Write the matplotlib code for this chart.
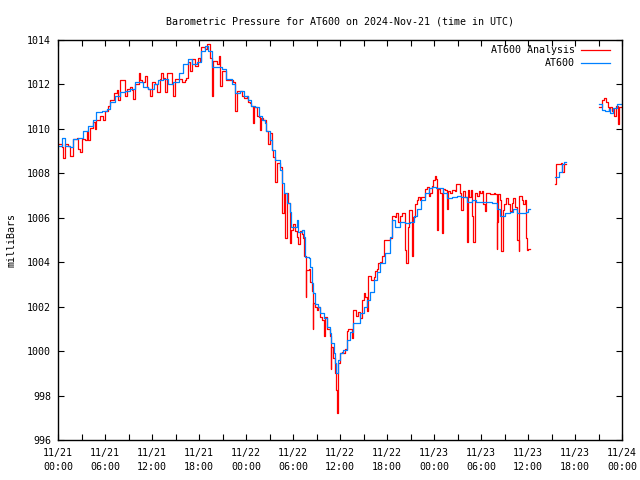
import numpy as np
import matplotlib
matplotlib.use("Agg")
import matplotlib.pyplot as plt

nan = float("nan")

# hours since 2024-11-21 00:00 UTC
at600_hours = [0.04, 0.47, 0.89, 1.53, 1.96, 2.6, 3.2, 3.87, 4.5, 4.9, 5.6, 6.2, 6.6, 7.3, 7.9, 8.55, 9.2, 9.8,
               10.5, 10.9, 11.5, 12.2, 12.8, 13.45, 14.1, 14.7, 15.4, 16.0, 16.6, 17.1, 17.7, 18.3, 18.8, 19.2,
               19.6, 20.3, 20.9, 21.5, 22.2, 22.6, 23.2, 23.7, 24.3, 24.7, 25.2, 25.6, 26.0, 26.4, 26.6, 27.1,
               27.3, 27.7, 28.3, 28.6, 28.8, 29.2, 29.6, 29.8, 30.3, 30.5, 30.7, 31.1, 31.4, 31.5, 32.0, 32.2,
               32.4, 32.6, 32.8, 33.2, 33.4, 33.9, 34.3, 34.7, 34.9, 35.2, 35.4, 35.5, 35.7, 35.8, 36.0, 36.4,
               36.9, 37.3, 37.7, 38.1, 38.6, 39.0, 39.4, 39.8, 40.3, 40.7, 41.1, 41.7, 42.4, 42.6, 43.0, 43.7,
               44.3, 44.9, 45.4, 45.8, 46.4, 46.9, 47.3, 47.7, 48.3, 48.8, 49.2, 49.6, 50.3, 50.9, 51.5, 52.2,
               52.8, 53.4, 54.0, 54.7, 55.4, 56.0, 56.4, 57.1, 57.7, 58.1, 58.6, 59.2, 59.8, 60.0, 60.3,
               63.4, 63.9, 64.3, 64.6, 64.9,
               69.1, 69.4, 69.8, 70.3, 70.5, 70.9, 71.3, 71.8, 72.0]
at600_mb = [1009.25, 1009.6, 1009.25, 1009.2, 1009.55, 1009.6, 1009.9, 1010.15, 1010.4, 1010.75, 1010.8, 1010.9,
            1011.2, 1011.5, 1011.65, 1011.7, 1011.8, 1012.1, 1012.1, 1011.9, 1011.8, 1012.0, 1012.2, 1012.25,
            1012.0, 1012.1, 1012.5, 1012.9, 1013.15, 1012.9, 1013.0, 1013.5, 1013.75, 1013.5, 1012.8, 1012.8,
            1012.7, 1012.25, 1012.0, 1011.6, 1011.7, 1011.5, 1011.3, 1011.05, 1011.0, 1010.6, 1010.4, 1010.25,
            1009.9, 1009.5, 1009.05, 1008.6, 1008.15, 1007.55, 1007.1, 1006.65, 1006.25, 1005.6, 1005.6,
            1005.9, 1005.35, 1005.45, 1005.15, 1004.25, 1004.2, 1003.8, 1003.05, 1002.6, 1002.1, 1002.0,
            1001.7, 1001.5, 1001.1, 1000.8, 1000.35, 999.9, 999.45, 999.0, 999.15, 999.6, 999.9, 1000.05,
            1000.5, 1000.85, 1001.25, 1001.25, 1001.7, 1002.0, 1002.3, 1002.65, 1003.2, 1003.55, 1003.95,
            1004.4, 1005.15, 1005.9, 1005.6, 1005.8, 1005.75, 1005.8, 1006.1, 1006.4, 1006.8, 1007.1, 1007.35,
            1007.4, 1007.35, 1007.35, 1007.1, 1006.9, 1006.95, 1007.0, 1006.95, 1006.7, 1006.8, 1006.7,
            1006.7, 1006.7, 1006.65, 1006.4, 1006.1, 1006.2, 1006.25, 1006.4, 1006.2, 1006.2, 1006.25,
            1006.4, nan,
            1007.85, 1008.05, 1008.4, 1008.5, nan,
            1011.1, 1010.85, 1010.8, 1010.9, 1010.7, 1010.95, 1011.1, 1011.1, 1011.1]

analysis_hours = [0.04, 0.47, 0.68, 0.89, 1.3, 1.53, 1.96, 2.4, 2.6, 2.8, 3.0, 3.45, 3.66, 3.87, 4.1, 4.5, 4.7,
                  4.9, 5.36, 5.8, 6.0, 6.4, 6.6, 7.1, 7.5, 7.7, 7.9, 8.3, 8.55, 8.8, 9.2, 9.4, 9.6, 9.8, 10.3,
                  10.5, 10.7, 11.1, 11.3, 11.5, 11.75, 12.0, 12.4, 12.6, 13.0, 13.2, 13.45, 13.7, 13.9, 14.3,
                  14.5, 14.7, 14.9, 15.4, 15.8, 16.2, 16.4, 16.6, 16.85, 17.1, 17.5, 17.9, 18.1, 18.3, 18.8,
                  19.0, 19.3, 19.45, 19.6, 19.8, 20.3, 20.5, 20.7, 20.9, 21.3, 21.5, 22.0, 22.4, 22.6, 22.8,
                  23.5, 23.7, 24.1, 24.3, 24.5, 24.7, 24.85, 25.0, 25.4, 25.6, 25.8, 25.9, 26.2, 26.6, 26.8,
                  27.0, 27.3, 27.5, 27.7, 27.9, 28.3, 28.6, 28.8, 29.0, 29.2, 29.4, 29.6, 29.8, 30.0, 30.25,
                  30.5, 30.7, 30.9, 31.1, 31.3, 31.45, 31.6, 31.7, 32.0, 32.2, 32.4, 32.5, 32.6, 32.8, 33.0,
                  33.2, 33.4, 33.7, 33.9, 34.1, 34.3, 34.4, 34.7, 34.8, 34.9, 35.1, 35.4, 35.5, 35.6, 35.7,
                  35.8, 36.0, 36.2, 36.4, 36.6, 36.85, 37.05, 37.5, 37.7, 38.1, 38.3, 38.6, 38.8, 39.0, 39.2,
                  39.4, 39.6, 39.8, 40.0, 40.3, 40.5, 40.7, 40.9, 41.1, 41.3, 41.6, 42.2, 42.4, 42.6, 43.0,
                  43.2, 43.45, 43.7, 43.9, 44.2, 44.3, 44.4, 44.6, 44.7, 44.85, 45.0, 45.15, 45.3, 45.6, 45.8,
                  46.0, 46.2, 46.4, 46.8, 47.1, 47.3, 47.5, 47.7, 47.9, 48.1, 48.3, 48.4, 48.5, 48.8, 49.0,
                  49.1, 49.4, 49.6, 49.8, 50.0, 50.3, 50.7, 50.8, 51.1, 51.3, 51.5, 51.7, 51.95, 52.2, 52.3,
                  52.5, 52.7, 52.8, 53.0, 53.2, 53.45, 53.7, 53.9, 54.1, 54.3, 54.5, 54.7, 54.9, 55.1, 55.4,
                  55.6, 55.8, 56.0, 56.1, 56.2, 56.4, 56.6, 56.75, 56.9, 57.2, 57.5, 57.7, 57.9, 58.1, 58.35,
                  58.6, 58.8, 58.9, 59.2, 59.4, 59.6, 59.75, 59.9, 60.05, 60.3,
                  63.4, 63.6, 64.2, 64.4, 64.6, 64.9,
                  69.1, 69.4, 69.7, 70.0, 70.2, 70.3, 70.5, 70.7, 70.8, 71.0, 71.2, 71.45, 71.6, 71.9, 72.0]
analysis_mb = [1009.3, 1009.2, 1008.7, 1009.3, 1009.25, 1008.8, 1009.55, 1009.6, 1009.1, 1008.95, 1009.55,
               1009.5, 1009.9, 1009.5, 1010.05, 1010.3, 1010.0, 1010.4, 1010.6, 1010.4, 1010.8, 1011.05,
               1011.3, 1011.6, 1011.75, 1011.3, 1012.2, 1012.2, 1011.5, 1011.8, 1011.9, 1011.75, 1011.35,
               1012.0, 1012.5, 1012.2, 1012.1, 1012.4, 1011.9, 1011.8, 1011.5, 1012.1, 1012.0, 1011.65,
               1012.25, 1012.5, 1012.3, 1011.65, 1012.5, 1012.5, 1012.0, 1011.5, 1012.25, 1012.25, 1012.1,
               1012.2, 1012.3, 1013.0, 1012.6, 1013.15, 1012.85, 1013.2, 1013.05, 1013.7, 1013.6, 1013.8,
               1013.8, 1013.2, 1011.5, 1013.05, 1012.9, 1013.3, 1011.95, 1012.6, 1012.6, 1012.2, 1012.2,
               1012.1, 1010.8, 1011.7, 1011.5, 1011.4, 1011.5, 1011.2, 1011.15, 1011.05, 1010.25, 1011.0,
               1010.6, 1010.55, 1009.95, 1010.5, 1010.4, 1009.9, 1009.3, 1009.8, 1009.05, 1008.75, 1007.6,
               1008.45, 1008.3, 1006.2, 1007.1, 1005.1, 1007.1, 1006.65, 1004.85, 1005.45, 1005.7, 1005.4,
               1005.15, 1004.8, 1005.4, 1005.25, 1005.1, 1004.3, 1002.45, 1003.65, 1003.7, 1003.1, 1002.7,
               1001.0, 1002.15, 1002.0, 1001.85, 1002.0, 1001.55, 1001.4, 1000.7, 1001.55, 1001.25, 1001.0,
               1000.7, 999.2, 1000.2, 999.7, 999.0, 998.25, 997.2, 998.1, 999.45, 999.9, 999.95, 999.9,
               1000.1, 1000.9, 1001.0, 1000.6, 1001.85, 1001.6, 1001.75, 1001.5, 1002.3, 1002.6, 1002.45,
               1001.8, 1003.4, 1003.4, 1003.2, 1003.35, 1003.6, 1003.7, 1003.95, 1004.0, 1004.3, 1005.0,
               1005.0, 1005.1, 1006.1, 1006.05, 1006.2, 1005.8, 1006.1, 1006.2, 1006.2, 1004.55, 1003.95,
               1003.95, 1005.6, 1006.35, 1006.35, 1004.3, 1006.05, 1006.6, 1006.8, 1006.95, 1006.8, 1006.95,
               1007.3, 1007.4, 1007.0, 1007.1, 1007.45, 1007.7, 1007.9, 1007.75, 1005.45, 1007.3, 1007.1,
               1005.3, 1007.3, 1007.25, 1006.4, 1007.2, 1007.1, 1007.25, 1007.2, 1007.5, 1007.5, 1007.1,
               1006.35, 1007.2, 1006.95, 1004.9, 1007.25, 1006.95, 1007.25, 1006.1, 1004.9, 1007.1, 1007.0,
               1007.2, 1007.1, 1007.2, 1006.6, 1006.3, 1007.1, 1007.1, 1007.05, 1007.05, 1007.1, 1007.05,
               1004.6, 1005.8, 1007.05, 1006.8, 1004.5, 1006.35, 1006.6, 1006.9, 1006.6, 1006.3, 1006.65,
               1006.9, 1006.5, 1005.0, 1004.5, 1007.0, 1006.8, 1006.6, 1006.8, 1005.1, 1004.55, 1004.6, nan,
               1007.5, 1008.4, 1008.45, 1008.05, 1008.4, nan,
               1011.0, 1011.3, 1011.4, 1011.2, 1011.0, 1010.85, 1011.0, 1010.8, 1010.9, 1010.6, 1011.05,
               1010.2, 1011.0, 1011.0, 1011.0]

xtick_hours = list(range(0, 73, 6))
xtick_labels = ["11/21\n00:00", "11/21\n06:00", "11/21\n12:00", "11/21\n18:00",
                "11/22\n00:00", "11/22\n06:00", "11/22\n12:00", "11/22\n18:00",
                "11/23\n00:00", "11/23\n06:00", "11/23\n12:00", "11/23\n18:00",
                "11/24\n00:00"]
yticks = list(range(996, 1015, 2))

plt.rcParams['font.family'] = ['DejaVu Sans Mono']
FS = 7.2

fig = plt.figure(figsize=(6.4, 4.8), dpi=100)
ax = fig.add_axes([58/640, 40/480, 564/640, 400/480])

RED = '#ff0000'
BLUE = '#0080ff'
ax.plot(analysis_hours, analysis_mb, color=RED, lw=0.9, drawstyle='steps-post')
ax.plot(at600_hours, at600_mb, color=BLUE, lw=0.9, drawstyle='steps-post')

ax.set_xlim(0, 72)
ax.set_ylim(996, 1014)
ax.set_xticks(xtick_hours)
ax.set_xticklabels(xtick_labels, fontsize=FS, linespacing=1.5)
ax.set_xticks(list(range(3, 72, 6)), minor=True)
ax.set_yticks(yticks)
ax.set_yticklabels([str(v) for v in yticks], fontsize=FS)
ax.tick_params(axis='both', which='both', direction='in', top=True, right=True,
               length=4, width=0.8, color='black')
ax.tick_params(axis='x', which='major', pad=6)
ax.tick_params(axis='y', which='major', pad=5)
for s in ax.spines.values():
    s.set_linewidth(1.0)

ax.set_ylabel("milliBars", fontsize=FS)
ax.yaxis.set_label_coords(-0.074, 0.5)
ax.set_title("Barometric Pressure for AT600 on 2024-Nov-21 (time in UTC)", fontsize=FS, pad=11)

# legend (gnuplot style: right-aligned text, sample to the right)
for i, (lab, col) in enumerate([("AT600 Analysis", RED), ("AT600", BLUE)]):
    yy = 1 - (10 + 13 * i) / 400
    ax.text((575 - 58) / 564, yy, lab, transform=ax.transAxes, ha='right', va='center', fontsize=FS)
    ax.plot([(581 - 58) / 564, (610 - 58) / 564], [yy, yy], transform=ax.transAxes, color=col, lw=0.9)

fig.savefig("out.png", dpi=100)
